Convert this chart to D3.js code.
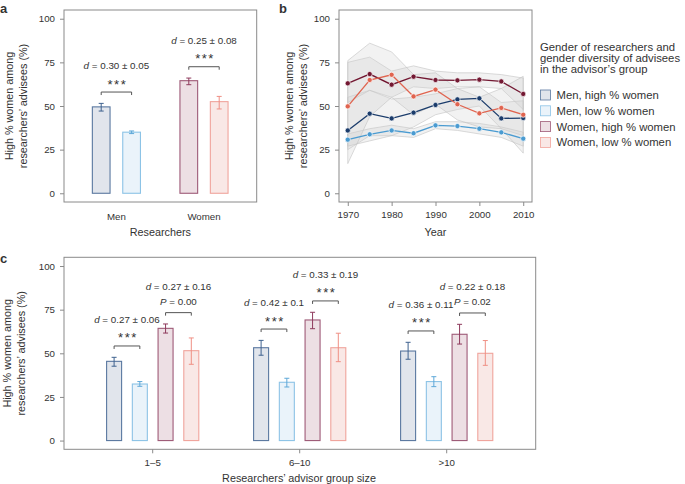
<!DOCTYPE html>
<html>
<head>
<meta charset="utf-8">
<script src="https://cdn.jsdelivr.net/npm/d3@7"></script>
<style>
  body { margin: 0; background: #fff; }
  text { font-family: "Liberation Sans", Arial, sans-serif; fill: #333; }
</style>
</head>
<body>
<svg id="chart" width="685" height="484"></svg>
<script>
// ---- data ----
const seriesNames = ["Men, high % women", "Men, low % women", "Women, high % women", "Women, low % women"];
const yTicks = [0, 25, 50, 75, 100];

// panel a (order: men high, men low, women high, women low)
const researchers = ["Men", "Women"];
const aMean = [49.5, 35.0, 64.5, 52.5];
const aLow = [47.1, 34.2, 62.2, 48.3];
const aHigh = [51.5, 35.7, 66.0, 55.5];
const aEffect = ["0.30 ± 0.05", "0.25 ± 0.08"];
const aSig = ["***", "***"];

// panel b
const years = [1970, 1975, 1980, 1985, 1990, 1995, 2000, 2005, 2010];
const yearTicks = [1970, 1980, 1990, 2000, 2010];
const bMenHigh = [36.0, 45.6, 42.9, 46.2, 50.6, 53.8, 54.4, 42.9, 43.1];
const bMenLow = [30.7, 33.8, 36.0, 34.4, 38.9, 38.5, 37.0, 34.9, 31.3];
const bWomenHigh = [63.0, 68.3, 62.2, 66.8, 64.9, 64.7, 65.1, 64.1, 56.9];
const bWomenLow = [49.8, 64.9, 67.9, 55.5, 59.4, 51.0, 45.8, 48.9, 45.0];
const bMenHighLo = [25, 33, 33, 38, 45, 48, 50, 37, 33];
const bMenHighHi = [55, 59, 54, 55, 57, 60, 61, 52, 53];
const bMenLowLo = [27, 30, 33, 32, 37, 36, 34, 32, 27];
const bMenLowHi = [34, 37, 39, 37, 41, 41, 40, 38, 35];
const bWomenHighLo = [52, 59, 55, 61, 60, 61, 61, 60, 48];
const bWomenHighHi = [75, 78, 70, 73, 70, 69, 69, 68, 66];
const bWomenLowLo = [17, 44, 55, 45, 51, 42, 38, 37, 23];
const bWomenLowHi = [76, 86, 81, 68, 69, 60, 55, 60, 67];

// panel c
const groupSizes = ["1–5", "6–10", ">10"];
const cMenHigh = [45.4, 53.2, 51.3];
const cMenHighLo = [42.6, 48.9, 46.6];
const cMenHighHi = [47.7, 57.4, 56.3];
const cMenLow = [32.4, 33.4, 33.8];
const cMenLowLo = [31.1, 30.7, 30.9];
const cMenLowHi = [33.8, 35.7, 36.6];
const cWomenHigh = [64.3, 69.1, 60.9];
const cWomenHighLo = [61.6, 64.1, 55.3];
const cWomenHighHi = [66.8, 73.5, 66.6];
const cWomenLow = [51.5, 53.2, 50.0];
const cWomenLowLo = [43.7, 45.2, 43.1];
const cWomenLowHi = [58.8, 61.5, 57.3];
const cMenEffect = ["0.27 ± 0.06", "0.42 ± 0.1", "0.36 ± 0.11"];
const cMenSig = ["***", "***", "***"];
const cWomenEffect = ["0.27 ± 0.16", "0.33 ± 0.19", "0.22 ± 0.18"];
const cWomenSig = ["P = 0.00", "***", "P = 0.02"];

// ---- styles ----
const barFill = ["#e1e5ec", "#eaf3fa", "#eddfe4", "#f9e8e6"];
const barStroke = ["#5a78a0", "#8cc3e6", "#9e5a77", "#f0a49c"];
const errColor = ["#3f628f", "#5ea8d8", "#8e3a5c", "#ef8f84"];
const lineColor = ["#1b3c6b", "#4a9bd1", "#731832", "#e0644f"];
const frameColor = "#8a8a8a";

const svg = d3.select("#chart");

function frame(x0, y0, x1, y1) {
    svg.append("rect")
        .attr("x", x0).attr("y", y0)
        .attr("width", x1 - x0).attr("height", y1 - y0)
        .attr("fill", "none")
        .attr("stroke", frameColor)
        .attr("stroke-width", 1);
}

function yAxis(y, x0) {
    const g = svg.append("g")
        .attr("transform", `translate(${x0},0)`)
        .call(d3.axisLeft(y).tickValues(yTicks).tickSize(4).tickPadding(5));
    g.select(".domain").remove();
    g.selectAll("line").attr("stroke", frameColor);
    g.selectAll("text").style("font-size", "9.7px").attr("fill", "#333");
}

function yTitle(x, yc) {
    const t = svg.append("text")
        .attr("transform", `translate(${x},${yc}) rotate(-90)`)
        .attr("text-anchor", "middle")
        .style("font-size", "10.8px");
    t.append("tspan").attr("x", 0).attr("dy", "0").text("High % women among");
    t.append("tspan").attr("x", 0).attr("dy", "14").text("researchers’ advisees (%)");
}

function panelLetter(x, y, s) {
    svg.append("text").attr("x", x).attr("y", y)
        .style("font-size", "13px").style("font-weight", "bold")
        .attr("fill", "#111").text(s);
}

// bracket + significance + effect size text
function annotate(xa, xb, yb, effect, sig) {
    svg.append("path")
        .attr("d", `M${xa},${yb + 3}V${yb}H${xb}V${yb + 3}`)
        .attr("fill", "none").attr("stroke", "#555").attr("stroke-width", 1);
    const xm = (xa + xb) / 2;
    const d = svg.append("text").attr("x", xm).attr("y", yb - 23)
        .attr("text-anchor", "middle").style("font-size", "9.8px");
    d.append("tspan").style("font-style", "italic").text("d");
    d.append("tspan").text(" = " + effect);
    if (sig === "***") {
        svg.append("text").attr("x", xm + 1).attr("y", yb - 3.5)
            .attr("text-anchor", "middle").style("font-size", "13px")
            .style("letter-spacing", "1.5px").text(sig);
    } else {
        const p = svg.append("text").attr("x", xm).attr("y", yb - 8)
            .attr("text-anchor", "middle").style("font-size", "9.8px");
        p.append("tspan").style("font-style", "italic").text("P");
        p.append("tspan").text(sig.slice(1));
    }
}

function bars(data, x, y, w) {
    svg.append("g").selectAll("rect")
        .data(data).enter().append("rect")
        .attr("x", d => x(d) - w / 2)
        .attr("y", d => y(d.v))
        .attr("width", w)
        .attr("height", d => y(0) - y(d.v))
        .attr("fill", d => barFill[d.s])
        .attr("stroke", d => barStroke[d.s])
        .attr("stroke-width", 1.1);
    const e = svg.append("g").selectAll("g")
        .data(data).enter().append("g")
        .attr("stroke", d => errColor[d.s]).attr("stroke-width", 1);
    e.append("line")
        .attr("x1", d => x(d)).attr("x2", d => x(d))
        .attr("y1", d => y(d.lo)).attr("y2", d => y(d.hi));
    e.append("line")
        .attr("x1", d => x(d) - 2.5).attr("x2", d => x(d) + 2.5)
        .attr("y1", d => y(d.lo)).attr("y2", d => y(d.lo));
    e.append("line")
        .attr("x1", d => x(d) - 2.5).attr("x2", d => x(d) + 2.5)
        .attr("y1", d => y(d.hi)).attr("y2", d => y(d.hi));
}

// ================= panel a =================
{
    const L = 64, R = 256.7, T = 10, B = 202;
    const y = d3.scaleLinear().domain([-5, 105]).range([B, T]);
    const xg = d3.scaleBand().domain(researchers).range([72.6, 247.8]);
    const xs = d3.scalePoint().domain(["high", "low"]).range([-15.2, 15.2]);
    const data = aMean.map((v, i) => ({
        g: researchers[Math.floor(i / 2)], k: i % 2 ? "low" : "high",
        v: v, lo: aLow[i], hi: aHigh[i], s: i
    }));
    const xf = d => xg(d.g) + xg.bandwidth() / 2 + xs(d.k);
    frame(L, T, R, B);
    yAxis(y, L);
    bars(data, xf, y, 17.7);
    researchers.forEach((g, j) => {
        const a = data[j * 2], b = data[j * 2 + 1];
        annotate(xf(a), xf(b), y(Math.max(a.hi, b.hi) + 6.5), aEffect[j], aSig[j]);
        svg.append("text").attr("x", xg(g) + xg.bandwidth() / 2).attr("y", 219.8)
            .attr("text-anchor", "middle").style("font-size", "9.7px").text(g);
    });
    svg.append("text").attr("x", (L + R) / 2).attr("y", 235.5)
        .attr("text-anchor", "middle").style("font-size", "10.8px").text("Researchers");
    yTitle(12.5, (T + B) / 2);
    panelLetter(0, 13, "a");
}

// ================= panel b =================
{
    const L = 339, R = 532, T = 10, B = 202;
    const y = d3.scaleLinear().domain([-5, 105]).range([B, T]);
    const x = d3.scaleLinear().domain([1968, 2012]).range([L, R]);
    frame(L, T, R, B);
    yAxis(y, L);
    const gx = svg.append("g").attr("transform", `translate(0,${B})`)
        .call(d3.axisBottom(x).tickValues(yearTicks).tickFormat(d3.format("d")).tickSize(4).tickPadding(5));
    gx.select(".domain").remove();
    gx.selectAll("line").attr("stroke", frameColor);
    gx.selectAll("text").style("font-size", "9.7px").attr("fill", "#333");

    const bands = [
        [bMenHighLo, bMenHighHi], [bMenLowLo, bMenLowHi],
        [bWomenHighLo, bWomenHighHi], [bWomenLowLo, bWomenLowHi]
    ];
    const lines = [bMenHigh, bMenLow, bWomenHigh, bWomenLow];
    const area = d3.area()
        .x(d => x(d.year)).y0(d => y(d.lo)).y1(d => y(d.hi));
    bands.forEach(b => {
        const pts = years.map((yr, i) => ({ year: yr, lo: b[0][i], hi: b[1][i] }));
        svg.append("path").datum(pts).attr("d", area)
            .attr("fill", "#d0d0d0").attr("fill-opacity", 0.28)
            .attr("stroke", "#c2c2c2").attr("stroke-width", 0.6);
    });
    const line = d3.line().x(d => x(d.year)).y(d => y(d.v));
    lines.forEach((s, k) => {
        const pts = years.map((yr, i) => ({ year: yr, v: s[i] }));
        svg.append("path").datum(pts).attr("d", line)
            .attr("fill", "none").attr("stroke", lineColor[k]).attr("stroke-width", 1.3);
        svg.append("g").selectAll("circle").data(pts).enter().append("circle")
            .attr("cx", d => x(d.year)).attr("cy", d => y(d.v)).attr("r", 2.6)
            .attr("fill", lineColor[k]).attr("stroke", "#fff").attr("stroke-width", 0.7);
    });
    svg.append("text").attr("x", (L + R) / 2).attr("y", 235.5)
        .attr("text-anchor", "middle").style("font-size", "10.8px").text("Year");
    yTitle(292.5, (T + B) / 2);
    panelLetter(279, 13, "b");

    // legend
    const lg = svg.append("g").attr("transform", "translate(540,0)");
    const title = ["Gender of researchers and", "gender diversity of advisees", "in the advisor’s group"];
    lg.selectAll("text.t").data(title).enter().append("text").attr("class", "t")
        .attr("x", 0).attr("y", (d, i) => 51.3 + i * 11)
        .style("font-size", "11.3px").text(d => d);
    lg.selectAll("rect").data(seriesNames).enter().append("rect")
        .attr("x", 0.5).attr("y", (d, i) => 90 + i * 15.8)
        .attr("width", 10).attr("height", 10)
        .attr("fill", (d, i) => barFill[i])
        .attr("stroke", (d, i) => barStroke[i]).attr("stroke-width", 0.8);
    lg.selectAll("text.l").data(seriesNames).enter().append("text").attr("class", "l")
        .attr("x", 16.5).attr("y", (d, i) => 99 + i * 15.8)
        .style("font-size", "11.3px").text(d => d);
}

// ================= panel c =================
{
    const L = 64, R = 535.7, T = 257.3, B = 449.3;
    const y = d3.scaleLinear().domain([-5, 105]).range([B, T]);
    const xg = d3.scaleBand().domain(groupSizes).range([79.2, 520.2]);
    const xs = d3.scalePoint().domain([0, 1, 2, 3]).range([-38.6, 38.6]);
    const means = [cMenHigh, cMenLow, cWomenHigh, cWomenLow];
    const los = [cMenHighLo, cMenLowLo, cWomenHighLo, cWomenLowLo];
    const his = [cMenHighHi, cMenLowHi, cWomenHighHi, cWomenLowHi];
    const data = [];
    groupSizes.forEach((g, j) => {
        means.forEach((m, s) => data.push({ g: g, s: s, v: m[j], lo: los[s][j], hi: his[s][j] }));
    });
    const xf = d => xg(d.g) + xg.bandwidth() / 2 + xs(d.s);
    frame(L, T, R, B);
    yAxis(y, L);
    const gx = svg.append("g").attr("transform", `translate(0,${B})`)
        .call(d3.axisBottom(xg).tickSize(4).tickPadding(6));
    gx.select(".domain").remove();
    gx.selectAll("line").attr("stroke", frameColor);
    gx.selectAll("text").style("font-size", "9.7px").attr("fill", "#333");
    bars(data, xf, y, 15);
    groupSizes.forEach((g, j) => {
        const d = data.slice(j * 4, j * 4 + 4);
        annotate(xf(d[0]), xf(d[1]), y(Math.max(d[0].hi, d[1].hi) + 6.5), cMenEffect[j], cMenSig[j]);
        annotate(xf(d[2]), xf(d[3]), y(Math.max(d[2].hi, d[3].hi) + 6.5), cWomenEffect[j], cWomenSig[j]);
    });
    svg.append("text").attr("x", 299).attr("y", 481.5)
        .attr("text-anchor", "middle").style("font-size", "10.8px")
        .text("Researchers’ advisor group size");
    yTitle(10.5, (T + B) / 2);
    panelLetter(0, 263, "c");
}
</script>
</body>
</html>
